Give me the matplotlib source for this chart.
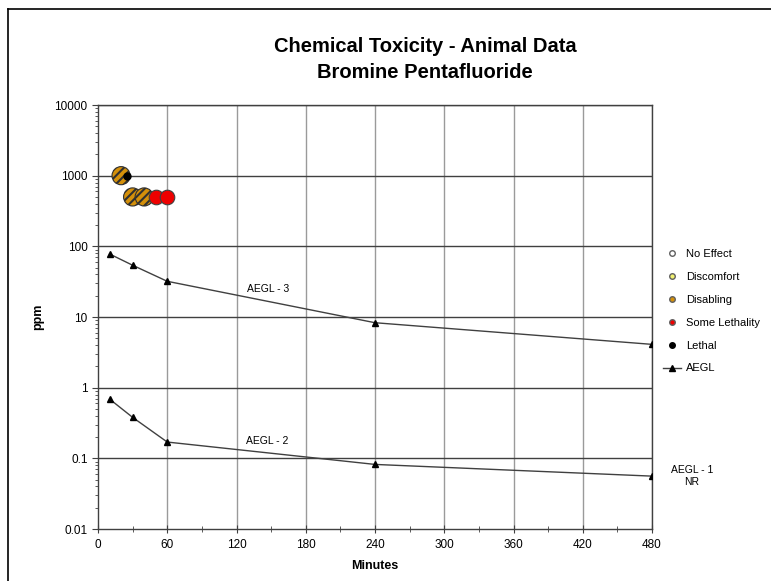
import matplotlib
matplotlib.use("Agg")
import matplotlib.pyplot as plt
from matplotlib.lines import Line2D

plt.rcParams['font.family'] = ['Liberation Sans', 'DejaVu Sans']
plt.rcParams['hatch.linewidth'] = 1.5

# AEGL data
aegl_minutes = [10, 30, 60, 240, 480]
aegl3_ppm = [78, 54, 32, 8.3, 4.1]
aegl2_ppm = [0.69, 0.38, 0.17, 0.082, 0.056]

# Animal data
disabling_min = [20, 30, 40]
disabling_ppm = [1000, 500, 500]
lethality_min = [50, 60]
lethality_ppm = [500, 500]
lethal_min = [25]
lethal_ppm = [1000]

x_ticks = [0, 60, 120, 180, 240, 300, 360, 420, 480]
y_ticks = [0.01, 0.1, 1, 10, 100, 1000, 10000]
y_labels = ['0.01', '0.1', '1', '10', '100', '1000', '10000']

fig = plt.figure(figsize=(7.71, 5.81), dpi=100)
ax = fig.add_axes([98/771, 1-529/581, (652-98)/771, (529-105)/581])

ax.set_yscale('log')
ax.set_xlim(0, 480)
ax.set_ylim(0.01, 10000)

# grid
for xv in x_ticks[1:]:
    ax.axvline(xv, color='#9a9a9a', lw=1.0, zorder=1)
for yv in y_ticks[1:]:
    ax.axhline(yv, color='#404040', lw=1.0, zorder=1)

ax.plot(aegl_minutes, aegl3_ppm, color='#404040', lw=1.0, marker='^', ms=5,
        mfc='black', mec='black', zorder=3)
ax.plot(aegl_minutes, aegl2_ppm, color='#404040', lw=1.0, marker='^', ms=5,
        mfc='black', mec='black', zorder=3)

ax.scatter(disabling_min, disabling_ppm, s=170, c='#D4900A', edgecolors='#303030',
           hatch='////', linewidths=0.8, zorder=4)
ax.scatter(lethality_min, lethality_ppm, s=110, c='#EE0000', edgecolors='#404040',
           linewidths=0.8, zorder=5)
ax.scatter(lethal_min, lethal_ppm, s=25, c='black', zorder=6)

ax.text(147, 25, 'AEGL - 3', fontsize=7.5, ha='center', va='center', zorder=7)
ax.text(147, 0.175, 'AEGL - 2', fontsize=7.5, ha='center', va='center', zorder=7)
fig.text(692/771, 1-476/581, 'AEGL - 1\nNR', fontsize=7.5, ha='center', va='center')

ax.set_xticks(x_ticks)
ax.set_xticklabels([str(v) for v in x_ticks], fontsize=8.5)
ax.xaxis.set_minor_locator(matplotlib.ticker.MultipleLocator(30))
ax.set_yticks(y_ticks)
ax.set_yticklabels(y_labels, fontsize=8.5)
ax.yaxis.set_minor_locator(matplotlib.ticker.LogLocator(base=10, subs=range(2, 10), numticks=20))
ax.yaxis.set_minor_formatter(matplotlib.ticker.NullFormatter())
ax.tick_params(axis='y', which='major', direction='out', length=4, color='#404040')
ax.tick_params(axis='y', which='minor', direction='out', length=2.5, color='#404040')
ax.tick_params(axis='x', which='major', direction='inout', length=6, color='#404040', pad=4)
ax.tick_params(axis='x', which='minor', direction='inout', length=5, color='#404040')
for sp in ax.spines.values():
    sp.set_color('#404040')
    sp.set_linewidth(1.0)

fig.text(375/771, 1-566/581, 'Minutes', fontsize=9, fontweight='bold',
         ha='center', va='center')
fig.text(38/771, 1-317/581, 'ppm', fontsize=9, fontweight='bold',
         ha='center', va='center', rotation=90)

fig.text(425/771, 1-47/581, 'Chemical Toxicity - Animal Data', fontsize=14.5,
         fontweight='bold', ha='center', va='center')
fig.text(425/771, 1-73/581, 'Bromine Pentafluoride', fontsize=14.5,
         fontweight='bold', ha='center', va='center')

handles = [
    Line2D([], [], ls='none', marker='o', ms=4, mfc='white', mec='#606060'),
    Line2D([], [], ls='none', marker='o', ms=4, mfc='#F0F070', mec='#606060'),
    Line2D([], [], ls='none', marker='o', ms=4, mfc='#D4900A', mec='#606060'),
    Line2D([], [], ls='none', marker='o', ms=4, mfc='#EE0000', mec='#606060'),
    Line2D([], [], ls='none', marker='o', ms=4, mfc='black', mec='black'),
    Line2D([], [], color='#404040', lw=1.0, marker='^', ms=4, mfc='black', mec='black'),
]
labels = ['No Effect', 'Discomfort', 'Disabling', 'Some Lethality', 'Lethal', 'AEGL']
fig.legend(handles, labels, loc='upper left', bbox_to_anchor=(663/771, 1-249/581),
           frameon=False, fontsize=8, handlelength=1.6, labelspacing=1.16,
           handletextpad=0.45, borderpad=0, borderaxespad=0)

# figure border (left and top edges visible)
fig.lines.append(Line2D([8/771, 8/771], [0, 1-9/581], transform=fig.transFigure,
                        color='black', lw=1.2))
fig.lines.append(Line2D([8/771, 1], [1-9/581, 1-9/581], transform=fig.transFigure,
                        color='black', lw=1.2))

fig.savefig('out.png', dpi=100)
